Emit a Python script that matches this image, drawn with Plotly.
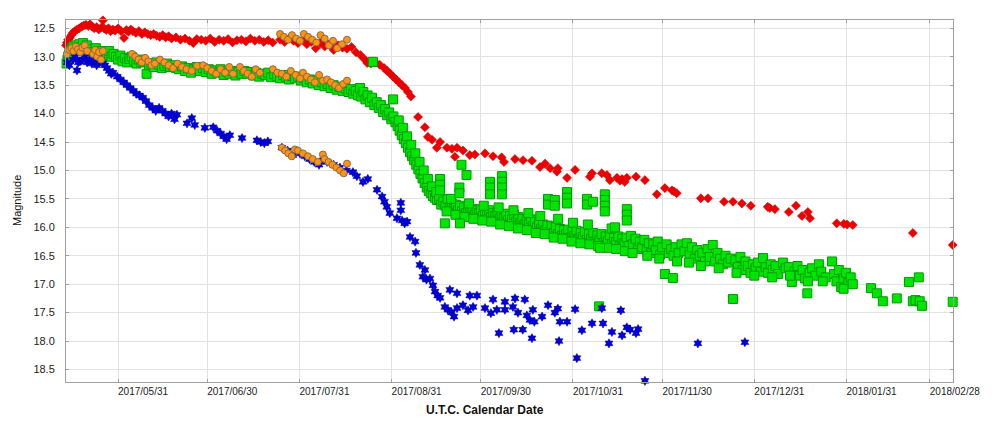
import pandas as pd
import plotly.graph_objects as go

# Time origin: observation days are counted from this date (UTC)
ORIGIN = "2017-05-13"

# x-axis window (days after ORIGIN) and y-axis window (magnitude, reversed)
X_RANGE_DAYS = [0.5, 298.8]
Y_RANGE = [18.72, 12.354]

TICK_DATES = ["2017-05-31", "2017-06-30", "2017-07-31", "2017-08-31", "2017-09-30",
              "2017-10-31", "2017-11-30", "2017-12-31", "2018-01-31", "2018-02-28"]

# ---- red diamonds: (day, magnitude)
RED = [(0.2,12.88),(0.5,12.8),(0.8,12.75),(1.2,12.7),(1.8,12.67),(2.3,12.62),(2.8,12.58),(3.5,12.55),
       (4.2,12.52),(5.0,12.5),(5.8,12.47),(6.5,12.45),(7.2,12.44),(8.0,12.46),(8.6,12.43),(9.3,12.47),
       (10.0,12.5),(10.8,12.48),(11.5,12.52),(12.3,12.49),(12.9,12.36),(13.3,12.5),(14.0,12.53),(14.8,12.5),
       (15.5,12.55),(16.2,12.52),(17.0,12.54),(18.0,12.5),(19.0,12.55),(20.0,12.67),(20.8,12.53),(21.5,12.56),
       (22.3,12.52),(23.0,12.55),(24.0,12.58),(25.0,12.55),(26.0,12.6),(27.0,12.57),(28.0,12.6),(29.0,12.62),
       (30.0,12.6),(31.0,12.63),(32.0,12.65),(33.0,12.62),(34.0,12.66),(35.0,12.64),(36.0,12.68),(37.5,12.66),
       (39.0,12.7),(40.5,12.68),(42.0,12.72),(43.3,12.76),(44.5,12.69),(46.0,12.7),(47.5,12.72),(49.0,12.68),
       (50.5,12.74),(52.0,12.7),(53.5,12.72),(55.0,12.69),(56.5,12.75),(58.0,12.71),(59.5,12.7),(61.0,12.73),
       (62.5,12.68),(64.0,12.72),(65.5,12.7),(67.0,12.74),(68.5,12.71),(70.0,12.75),
       (72.5,12.7),(74.0,12.74),(75.5,12.68),(77.0,12.72),(78.5,12.76),(80.0,12.7),(81.5,12.78),(83.0,12.74),
       (84.5,12.85),(86.0,12.76),(87.5,12.82),(89.0,12.78),(90.5,12.88),(92.0,12.8),(93.5,12.84),(95.0,12.86),
       (96.5,12.83),(98.0,12.92),(99.5,12.97),(101.0,13.05),(101.8,13.11),(103.0,13.12),(104.5,13.1),
       (106.0,13.14),(107.5,13.2),(108.5,13.25),(109.4,13.29),(110.5,13.35),(111.5,13.4),(112.5,13.45),
       (113.5,13.5),(114.5,13.55),(115.5,13.62),(116.5,13.7),(118.9,14.06),(121.2,14.24),(122.2,14.41),
       (123.6,14.46),(125.2,14.6),(126.3,14.5),(128.6,14.6),(130.3,14.62),(131.3,14.76),(132.0,14.6),
       (134.0,14.65),(136.3,14.73),(138.0,14.72),(141.4,14.7),(144.1,14.75),(147.0,14.77),(147.8,14.85),
       (151.5,14.8),(154.2,14.82),(157.2,14.83),(159.9,14.94),(161.6,14.88),(163.3,14.96),(165.6,15.02),
       (165.9,14.96),(169.0,15.13),(171.7,14.99),(176.7,15.11),(177.4,15.05),(180.7,15.05),(182.4,15.08),
       (183.4,15.17),(185.8,15.13),(186.8,15.18),(187.5,15.15),(188.4,15.2),(189.1,15.13),(192.2,15.11),
       (195.2,15.17),(199.2,15.42),(201.9,15.31),(204.3,15.35),(205.0,15.37),(205.9,15.4),(214.0,15.49),
       (216.4,15.49),(221.8,15.55),(224.8,15.55),(227.8,15.58),(230.8,15.62),(236.5,15.64),(237.2,15.66),
       (238.9,15.68),(243.6,15.73),(246.0,15.62),(248.0,15.8),(250.0,15.73),(250.7,15.84),(259.7,15.93),
       (262.1,15.94),(263.2,15.95),(265.1,15.96),(285.3,16.1),(298.7,16.31)]

# ---- green squares: (day, magnitude)
GREEN = [(0.2,13.3),(0.4,13.22),(0.7,13.12),(1.0,13.05),(1.3,13.0),(1.6,12.95),(2.0,12.9),(2.5,12.85),
         (3.0,12.82),(3.5,12.88),(4.0,12.8),(4.5,12.86),(5.0,12.78),(5.6,12.83),(6.2,12.76),(6.8,12.85),
         (7.5,12.8),(8.2,12.9),(9.0,12.87),(9.8,12.92),(10.5,12.85),(11.3,12.95),(12.0,12.9),(12.8,13.0),
         (13.5,12.93),(14.3,12.97),(15.0,12.9),(15.8,13.0),(16.5,12.95),
         (17.3,13.0),(18.0,13.05),(18.8,12.98),(19.5,13.08),(20.3,13.02),(21.0,13.1),(21.8,13.04),(22.6,13.0),
         (23.4,13.07),(24.2,13.12),(25.0,13.05),(25.8,13.1),(26.6,13.08),(27.6,13.3),(28.4,13.15),(29.2,13.12),
         (30.0,13.18),(30.9,13.1),(31.8,13.14),(32.7,13.2),(33.6,13.16),
         (34.5,13.12),(35.5,13.18),(36.5,13.15),(37.5,13.2),(38.5,13.22),(39.5,13.17),(40.5,13.25),(41.5,13.2),
         (42.5,13.28),(43.5,13.22),(44.5,13.18),(45.5,13.25),(46.5,13.2),(47.5,13.27),(48.5,13.22),(49.5,13.3),
         (50.5,13.24),(51.5,13.28),(52.5,13.22),(53.5,13.32),(54.5,13.26),(55.5,13.3),(56.5,13.25),(57.5,13.33),
         (58.5,13.27),(59.5,13.3),(60.5,13.25),
         (61.5,13.3),(62.5,13.27),(63.5,13.33),(64.5,13.28),(65.5,13.35),(66.5,13.3),(67.5,13.32),(68.5,13.28),
         (69.5,13.36),(70.5,13.31),(71.5,13.34),(72.5,13.38),(73.5,13.32),(74.5,13.36),(75.5,13.4),(76.5,13.34),
         (77.5,13.38),(78.5,13.35),(79.5,13.42),(80.5,13.38),(81.5,13.45),(82.5,13.4),(83.5,13.47),(84.5,13.42),
         (85.5,13.5),(86.5,13.45),(87.5,13.52),(88.5,13.48),(89.5,13.55),(90.5,13.5),(91.5,13.58),(92.5,13.53),
         (93.5,13.6),(94.5,13.55),(95.5,13.62),(96.3,13.57),(97.1,13.65),(97.9,13.6),(98.7,13.68),
         (99.4,13.55),(99.8,13.7),(100.5,13.62),(101.2,13.75),(101.9,13.68),(102.7,13.8),(103.4,13.72),
         (103.7,13.09),(104.2,13.85),(105.0,13.8),(105.7,13.9),(106.4,13.85),(107.1,13.97),(107.8,13.92),
         (108.5,14.03),(109.2,13.98),(109.9,14.1),(110.5,13.75),(110.6,14.05),(111.3,14.15),(112.0,14.22),
         (112.7,14.3),(113.4,14.38),(114.1,14.45),(114.8,14.52),(115.5,14.6),(116.2,14.68),(116.9,14.75),
         (117.6,14.82),(118.3,14.9),(119.0,14.98),(119.7,15.06),(120.4,15.14),(121.1,15.22),(121.8,15.3),
         (122.5,15.36),(123.2,15.4),(123.9,15.45),(124.6,15.48),(125.3,15.52),
         (112.4,14.12),(113.8,14.25),(115.2,14.4),(116.6,14.55),(118.0,14.7),(119.4,14.85),(120.8,15.0),
         (122.2,15.15),(123.6,15.28),(125.0,15.38),
         (126.0,15.5),(126.7,15.6),(127.4,15.55),(128.1,15.62),(128.8,15.5),(129.5,15.65),(130.2,15.58),
         (130.9,15.68),(131.6,15.6),(132.3,15.7),(133.0,15.62),(133.7,15.72),(134.4,15.65),(135.1,15.75),
         (135.8,15.66),(136.5,15.73),(137.2,15.68),(137.9,15.78),(138.6,15.7),(139.3,15.75),(140.0,15.68),
         (140.7,15.8),(141.4,15.72),(142.1,15.78),(142.8,15.7),(143.5,15.82),(144.2,15.75),(144.9,15.8),
         (145.6,15.73),(146.3,15.85),(147.0,15.78),(147.7,15.84),(148.4,15.76),(149.1,15.88),(149.8,15.8),
         (150.5,15.86),(151.2,15.78),(151.9,15.9),(152.6,15.82),(153.3,15.92),(154.0,15.85),(154.7,15.95),
         (155.4,15.87),(156.1,15.93),(156.8,15.86),(157.5,15.98),(158.2,15.9),(158.9,16.0),(159.6,15.92),
         (160.3,16.02),(161.0,15.95),(161.7,16.05),(162.4,15.97),(163.1,16.08),(163.8,15.98),(164.5,16.1),
         (165.2,16.0),(165.9,16.12),(166.6,16.03),(167.3,16.15),(168.0,16.05),(168.7,16.12),(169.4,16.04),
         (170.1,16.18),(170.8,16.08),(171.5,16.15),(172.2,16.06),(172.9,16.2),(173.6,16.1),(174.3,16.17),
         (175.0,16.08),(175.7,16.22),(176.4,16.12),(177.1,16.2),(177.8,16.1),(178.5,16.25),(179.2,16.14),
         (179.9,16.22),(180.6,16.12),(181.3,16.27),(182.0,16.16),(182.7,16.24),(183.4,16.14),(184.1,16.3),
         (184.8,16.18),(185.5,16.26),(186.2,16.16),(186.9,16.32),(187.6,16.2),(188.3,16.28),(189.0,16.18),
         (189.7,16.33),
         (128.5,15.72),(131.5,15.78),(134.5,15.82),(137.5,15.85),(140.5,15.88),(143.5,15.9),(146.5,15.95),
         (149.5,15.98),(152.5,16.02),(155.5,16.05),(158.5,16.1),(161.5,16.12),(164.5,16.18),(167.5,16.2),
         (170.5,16.25),(173.5,16.28),(176.5,16.3),(179.5,16.33),(182.5,16.36),(185.5,16.38),(188.5,16.42),
         (130.0,15.5),(136.0,15.58),(141.0,15.62),(146.0,15.65),(151.0,15.7),(156.0,15.75),(160.0,15.8),
         (166.0,15.85),(171.0,15.92),(176.0,15.95),(184.0,16.02),
         (126.3,15.15),(126.3,15.25),(126.3,15.35),(127.9,15.93),(133.0,15.93),(132.8,15.3),(132.8,15.4),
         (133.5,14.9),(135.2,15.08),(143.1,15.2),(143.1,15.3),(143.1,15.42),(147.1,15.1),(147.1,15.2),
         (147.1,15.3),(147.1,15.42),(162.6,15.5),(162.6,15.6),(164.9,15.52),(164.9,15.62),(169.0,15.38),
         (169.0,15.48),(169.0,15.58),(175.7,15.5),(175.7,15.6),(177.7,15.55),(180.1,16.36),(179.8,17.39),
         (181.7,15.42),(181.7,15.52),(181.7,15.62),(181.7,15.72),(185.1,16.0),(189.1,15.68),(189.1,15.78),
         (189.1,15.88),
         (190.5,16.15),(191.2,16.3),(192.0,16.2),(192.8,16.38),(193.5,16.25),(194.3,16.35),(195.0,16.22),
         (195.8,16.4),(196.5,16.28),(197.3,16.45),(198.0,16.3),(198.8,16.4),(199.5,16.25),(200.3,16.48),
         (201.0,16.35),(201.9,16.82),(202.5,16.3),(203.3,16.45),(204.0,16.38),(204.6,16.89),(204.8,16.5),
         (205.5,16.35),(206.5,16.45),(207.5,16.3),(208.5,16.42),(209.3,16.28),(210.2,16.48),(211.0,16.35),
         (212.0,16.55),(212.8,16.4),(213.6,16.5),(214.5,16.45),(215.4,16.6),(216.2,16.38),(217.0,16.52),
         (218.0,16.31),(218.8,16.6),(219.6,16.45),(220.5,16.55),(221.4,16.65),(222.3,16.5),(223.2,16.62),
         (224.0,16.55),(224.8,17.26),(225.6,16.58),(226.5,16.7),(227.3,16.52),(228.1,16.75),(229.0,16.6),
         (229.8,16.68),(230.7,16.8),(231.5,16.65),(232.4,16.72),(233.2,16.62),(234.1,16.78),(234.9,16.54),
         (235.8,16.7),(236.6,16.8),(237.5,16.65),(238.2,16.75),(239.1,16.68),(240.0,16.82),(241.6,16.62),
         (242.5,16.72),(243.6,16.7),(244.6,16.96),(245.5,16.78),(246.5,16.68),(247.3,16.85),(248.2,16.75),
         (249.0,16.9),(249.8,17.16),(250.6,16.8),(251.4,16.72),(252.5,16.85),(253.7,16.65),(254.5,16.78),
         (256.0,16.88),(258.1,16.6),(258.8,16.82),(259.6,16.95),(260.4,16.75),(261.2,17.05),(262.0,16.9),
         (262.8,16.8),(263.6,16.98),(264.4,16.88),(265.1,17.0),(271.2,17.07),(273.2,17.16),(275.2,17.3),
         (279.9,17.25),(284.0,16.96),(285.3,17.3),(286.2,17.28),(287.3,16.88),(287.6,17.3),(288.4,17.38),
         (298.7,17.31),
         (191.0,16.45),(196.0,16.5),(200.0,16.55),(206.0,16.6),(210.0,16.62),(214.0,16.68),(220.0,16.72),
         (226.0,16.8),(232.0,16.85),(238.0,16.88),(244.0,16.85),(250.0,16.95),(255.0,16.95),(262.0,17.08)]

# ---- blue stars: (day, magnitude)
BLUE = [(0.2,13.2),(0.9,13.1),(1.6,13.15),(2.9,13.05),(3.6,13.0),(4.2,13.24),(4.6,13.1),(5.2,13.08),
        (6.0,13.05),(6.8,13.0),(7.6,13.1),(8.4,13.05),(9.2,13.12),(10.0,13.08),(10.8,13.15),(11.6,13.1),
        (12.3,13.05),(12.9,13.12),(13.6,13.15),(14.3,13.2),(15.0,13.25),(15.7,13.3),(16.3,13.28),
        (17.7,13.35),(18.8,13.4),(19.9,13.45),(21.0,13.5),(22.1,13.55),(23.2,13.6),(24.2,13.65),
        (25.2,13.68),(26.3,13.72),(27.4,13.78),(28.5,13.85),(29.6,13.9),(30.7,13.95),(31.8,13.9),
        (32.9,13.95),(34.0,14.0),(35.0,14.05),(36.0,14.0),(37.0,14.1),(37.8,14.02),(41.2,14.17),
        (42.8,14.08),(43.8,14.2),(47.2,14.25),(50.0,14.24),(51.3,14.3),(52.5,14.35),(53.5,14.4),
        (54.5,14.45),(55.6,14.38),(59.7,14.43),(64.7,14.47),(66.0,14.5),(67.2,14.52),(68.4,14.49),
        (73.1,14.6),(75.0,14.65),(76.8,14.73),(79.2,14.7),(80.8,14.75),(82.4,14.8),(84.0,14.85),
        (85.6,14.9),(86.9,14.82),(88.3,14.85),(90.5,14.9),(92.6,14.95),(94.8,15.0),(97.0,15.03),
        (98.3,15.1),(100.4,15.2),(102.0,15.15),(105.1,15.34),(106.8,15.46),(107.6,15.55),(108.4,15.64),
        (109.4,15.75),(111.8,15.84),(113.1,15.57),(113.1,15.7),(113.5,15.88),(114.4,15.93),(115.2,15.9),
        (116.2,16.17),(117.9,16.25),(118.2,16.45),(119.5,16.66),(121.2,16.75),(120.5,16.87),(121.7,16.92),
        (122.9,16.9),(123.9,17.02),(124.6,17.13),(125.5,17.2),(126.3,17.24),(127.9,17.4),(128.9,17.45),
        (129.6,17.1),(130.2,17.5),(131.0,17.57),(132.0,17.42),(132.0,17.16),(134.0,17.37),(135.7,17.46),
        (136.3,17.2),(137.4,17.4),(138.7,17.2),(141.4,17.42),(143.4,17.51),(144.1,17.27),(145.4,17.45),
        (146.1,17.86),(148.1,17.31),(148.1,17.45),(150.8,17.4),(151.1,17.8),(151.5,17.25),(152.5,17.5),
        (154.1,17.8),(154.8,17.27),(155.5,17.55),(156.5,17.63),(157.2,17.95),(157.5,17.45),(158.0,17.66),
        (160.6,17.57),(162.6,17.37),(164.9,17.5),(165.9,17.43),(166.3,18.0),(166.6,17.66),(169.0,17.66),
        (171.7,17.44),(172.3,18.3),(174.0,17.81),(177.4,17.69),(180.7,17.42),(181.1,17.69),(183.1,18.04),
        (184.1,17.84),(187.1,17.46),(187.5,17.9),(189.1,17.76),(190.2,17.8),(192.2,17.86),(192.9,17.79),
        (195.2,18.7),(213.0,18.04),(228.8,18.02)]

# ---- orange circles: (day, magnitude)
ORANGE = [(0.8,12.95),(1.6,12.88),(2.3,12.85),(3.0,12.9),(3.8,12.82),(4.5,12.87),(5.3,12.92),(6.0,12.84),
          (6.8,12.8),(7.6,12.9),(9.6,12.95),(10.3,12.88),(11.0,13.0),(11.6,12.92),(12.3,13.05),(12.9,12.9),
          (22.7,12.95),(23.8,13.0),(24.9,13.05),(26.0,13.1),(27.1,13.02),(28.2,13.08),(29.3,13.15),(30.4,13.12),
          (32.1,13.05),(33.6,13.1),(35.0,13.15),(36.5,13.2),(38.0,13.12),(39.5,13.18),(41.0,13.22),(42.8,13.25),
          (44.6,13.16),(46.6,13.15),(48.0,13.2),(49.5,13.25),(51.0,13.3),(52.5,13.22),(54.0,13.28),(55.4,13.18),
          (56.7,13.3),(59.0,13.18),(60.3,13.25),(61.6,13.3),(63.0,13.35),(64.3,13.22),(65.7,13.28),
          (70.1,13.22),(71.6,13.28),(73.1,13.3),(74.6,13.35),(76.1,13.25),(77.7,13.32),(79.2,13.38),
          (80.2,13.28),(81.5,13.35),(82.9,13.4),(84.2,13.45),(85.6,13.32),(86.9,13.42),
          (88.3,13.4),(89.6,13.45),(91.0,13.5),(92.3,13.55),(93.7,13.48),(95.0,13.42),
          (72.5,12.6),(73.8,12.65),(75.2,12.7),(76.5,12.62),(77.9,12.68),(79.2,12.72),
          (80.5,12.6),(81.9,12.65),(83.3,12.7),(84.7,12.75),(86.1,12.62),(87.5,12.68),(88.9,12.8),
          (90.3,12.72),(91.7,12.85),(93.3,12.78),(95.0,12.7),
          (73.1,14.6),(74.2,14.65),(75.3,14.7),(76.4,14.75),(77.5,14.63),
          (78.5,14.65),(80.2,14.7),(81.9,14.75),(83.5,14.8),(85.2,14.85),(86.9,14.72),
          (87.5,14.8),(88.8,14.85),(90.1,14.9),(91.4,14.95),(92.7,15.0),(93.9,15.05),(95.0,14.88)]


def to_dates(days):
    return pd.Timestamp(ORIGIN) + pd.to_timedelta(days, unit="D")


def xs(series):
    return to_dates([p[0] for p in series])


def ys(series):
    return [p[1] for p in series]


FONT = "Liberation Sans, Arial, sans-serif"

fig = go.Figure()
fig.add_trace(go.Scatter(x=xs(RED), y=ys(RED), mode="markers", cliponaxis=False,
                         marker=dict(symbol="diamond", size=7, color="#ee0000",
                                     line=dict(color="#cc0000", width=0.5))))
fig.add_trace(go.Scatter(x=xs(GREEN), y=ys(GREEN), mode="markers", cliponaxis=False,
                         marker=dict(symbol="square", size=9, color="#00e600",
                                     line=dict(color="#009a00", width=1))))
fig.add_trace(go.Scatter(x=xs(BLUE), y=ys(BLUE), mode="markers", cliponaxis=False,
                         marker=dict(symbol="hexagram", size=7, color="#0000dd",
                                     line=dict(color="#000099", width=0.5))))
fig.add_trace(go.Scatter(x=xs(ORANGE), y=ys(ORANGE), mode="markers", cliponaxis=False,
                         marker=dict(symbol="circle", size=7, color="#ff9410",
                                     line=dict(color="#8a6a4a", width=1))))

# The page body adds an 8 px offset, so the figure is 8 px smaller than the window.
fig.update_layout(
    width=992, height=415,
    margin=dict(l=58, r=47, t=12, b=41),
    paper_bgcolor="white", plot_bgcolor="white",
    showlegend=False,
    font=dict(family=FONT, size=11, color="#222"),
    xaxis=dict(
        type="date",
        range=list(to_dates(X_RANGE_DAYS)),
        tickvals=TICK_DATES,
        tickformat="%Y/%m/%d",
        ticklabelshift=25,
        tickfont=dict(size=10, color="#222"),
        showgrid=True, gridcolor="#e2e2e2", gridwidth=1,
        showline=True, linecolor="#a0a0a0", linewidth=1, mirror="ticks",
        ticks="inside", ticklen=3, tickcolor="#a0a0a0",
        zeroline=False,
    ),
    yaxis=dict(
        range=Y_RANGE,
        tick0=12.5, dtick=0.5, tickformat=".1f",
        tickfont=dict(size=11, color="#222"),
        showgrid=True, gridcolor="#e2e2e2", gridwidth=1,
        showline=True, linecolor="#a0a0a0", linewidth=1, mirror="ticks",
        ticks="inside", ticklen=3, tickcolor="#a0a0a0",
        ticklabelstandoff=8,
        zeroline=False,
    ),
    annotations=[
        dict(text="<b>U.T.C. Calendar Date</b>", xref="paper", yref="paper",
             x=0.472, y=-0.077, xanchor="center", yanchor="middle", showarrow=False,
             font=dict(family=FONT, size=12, color="#111")),
        dict(text="Magnitude", xref="paper", yref="paper", textangle=-90,
             x=-0.0552, y=0.5, xanchor="center", yanchor="middle", showarrow=False,
             font=dict(family=FONT, size=11, color="#111")),
    ],
)

fig.write_html("out.html")
